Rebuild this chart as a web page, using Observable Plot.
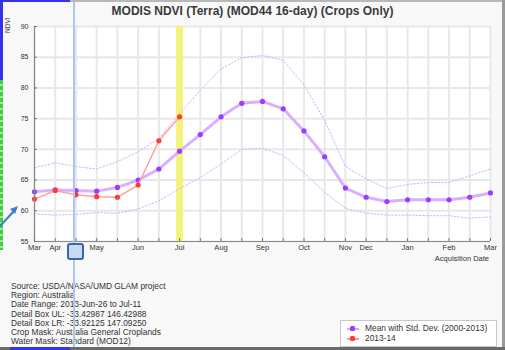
<!DOCTYPE html>
<html><head><meta charset="utf-8">
<script src="https://cdn.jsdelivr.net/npm/d3@7"></script>
<script src="https://cdn.jsdelivr.net/npm/@observablehq/plot@0.6"></script>
<style>
html,body{margin:0;padding:0;background:#fff;}
#wrap{position:relative;width:505px;height:350px;overflow:hidden;background:#f8f8f8;font-family:"Liberation Sans",Arial,sans-serif;color:#333;}
#chart{position:absolute;left:0;top:0;}
#title{position:absolute;top:4px;left:0;width:505px;text-align:center;font-weight:bold;font-size:12px;color:#3a3a3a;}
#ylab{position:absolute;left:4px;top:33px;font-size:6.5px;transform:rotate(-90deg);transform-origin:left top;color:#444;}
#xlab{position:absolute;right:16px;top:254px;font-size:7.5px;color:#333;}
#info{position:absolute;left:11px;top:282px;font-size:8.4px;line-height:9.2px;color:#333;white-space:nowrap;}
#legend{position:absolute;left:340px;top:320px;width:155px;height:25px;background:#fff;border:1px solid #c8c8c8;font-size:8.4px;color:#333;}
.lrow{position:absolute;left:6px;height:9px;line-height:9px;white-space:nowrap;}
.lrow span.sw{position:absolute;left:0;top:4px;width:12px;height:2px;}
.lrow span.mk{position:absolute;left:3px;top:2px;width:5px;height:5px;border-radius:1.5px;}
.lrow span.tx{position:absolute;left:18px;top:0;}
.ov{position:absolute;}
</style></head>
<body><div id="wrap">
<div id="chart"></div>
<div id="title"></div>
<div id="ylab"></div>
<div id="xlab"></div>
<div id="info"></div>
<div id="legend"></div>
<!-- screen overlays seen in the screenshot -->
<div class="ov" style="left:73px;top:0;width:2px;height:350px;background:#a9c8f0;"></div>
<div class="ov" style="left:67px;top:243px;width:13px;height:13px;background:#c9dbf2;border:2px solid #3a66ad;border-radius:3px;"></div>
<div class="ov" style="left:0;top:0;width:70px;height:2px;background:#3434e6;"></div>
<div class="ov" style="left:70px;top:0;width:435px;height:2px;background:#b8b8b8;"></div>
<div class="ov" style="left:502px;top:0;width:3px;height:350px;background:#9a9a9a;"></div>
<div class="ov" style="left:0;top:347px;width:505px;height:3px;background:#6a6a6a;"></div>
<div class="ov" style="left:10px;top:347px;width:60px;height:3px;background:#3434e6;"></div>
<div class="ov" style="left:0;top:0;width:3px;height:80px;background:#3434e6;"></div>
<div class="ov" style="left:0;top:80px;width:3px;height:170px;background:repeating-linear-gradient(#3fcf3f 0 4px,#9be89b 4px 6px);"></div>
<svg class="ov" style="left:0;top:0;" width="30" height="240">
  <line x1="0" y1="226" x2="15" y2="210" stroke="#3d7fc6" stroke-width="2.2"/>
  <path d="M18,206 L10,209 L15,214 Z" fill="#3d7fc6"/>
</svg>
</div>
<script>
// 16-day acquisition periods (index 0..22), Mar to Mar
const tickLabels = ["Mar","Apr","","May","","Jun","","Jul","","Aug","","Sep","","Oct","","Nov","Dec","","Jan","","Feb","","Mar"];
const meanNDVI  = [63.1,63.4,63.3,63.2,63.8,65.0,66.8,69.7,72.4,75.3,77.5,77.8,76.6,73.0,68.8,63.7,62.2,61.5,61.8,61.8,61.8,62.2,62.9];
const upperNDVI = [67.0,67.8,67.2,66.8,68.0,69.6,71.8,75.8,79.6,83.1,84.9,85.3,84.5,80.5,74.7,67.2,65.2,63.6,64.3,64.6,64.6,65.7,66.8];
const lowerNDVI = [59.5,59.3,59.4,59.7,59.6,60.3,61.6,63.6,65.4,67.6,70.0,70.2,69.0,66.2,63.0,60.4,59.6,59.3,59.3,59.2,59.2,58.8,59.0];
const ndvi2013  = [61.9,63.3,62.6,62.3,62.2,64.2,71.4,75.3];
const yTicks = [55,60,65,70,75,80,85,90];
const highlightPeriod = 7;

const titleText = "MODIS NDVI (Terra) (MOD44 16-day) (Crops Only)";
const yLabel = "NDVI";
const xLabel = "Acquisition Date";
const infoLines = [
  "Source: USDA/NASA/UMD GLAM project",
  "Region: Australia",
  "Date Range: 2013-Jun-26 to Jul-11",
  "Detail Box UL: -33.42987 146.42988",
  "Detail Box LR: -33.92125 147.09250",
  "Crop Mask: Australia General Croplands",
  "Water Mask: Standard (MOD12)"
];
const legendItems = [
  {label: "Mean with Std. Dev. (2000-2013)", line: "#d6a8ff", dot: "#9d3cff"},
  {label: "2013-14", line: "#ff9a9a", dot: "#ff3a3a"}
];

const idx = tickLabels.map((_, i) => i);
const rows = arr => arr.map((v, i) => ({i, v}));

const chart = Plot.plot({
  width: 505, height: 262,
  marginLeft: 34, marginRight: 15, marginTop: 26, marginBottom: 21,
  style: {background: "transparent", fontFamily: "Liberation Sans, Arial, sans-serif", color: "#333"},
  x: {domain: [0, 22]},
  y: {domain: [55, 90]},
  marks: [
    Plot.frame({fill: "white", stroke: null}),
    Plot.gridX(idx, {stroke: "#e8e8e8", strokeOpacity: 1, strokeWidth: 2}),
    Plot.gridY(yTicks, {stroke: "#e8e8e8", strokeOpacity: 1, strokeWidth: 2}),
    Plot.ruleX([highlightPeriod], {stroke: "#f3f37c", strokeWidth: 7}),
    Plot.line(rows(upperNDVI), {x: "i", y: "v", stroke: "#d6aeff", strokeWidth: 1, strokeDasharray: "1.5,2"}),
    Plot.line(rows(lowerNDVI), {x: "i", y: "v", stroke: "#d6aeff", strokeWidth: 1, strokeDasharray: "1.5,2"}),
    Plot.line(rows(meanNDVI), {x: "i", y: "v", stroke: "#d9b0ff", strokeWidth: 3}),
    Plot.dot(rows(meanNDVI), {x: "i", y: "v", fill: "#9d3cff", r: 2.6}),
    Plot.line(rows(ndvi2013), {x: "i", y: "v", stroke: "#ffa0a0", strokeWidth: 1.5}),
    Plot.dot(rows(ndvi2013), {x: "i", y: "v", fill: "#ff3a3a", r: 2.6}),
    Plot.ruleX([0], {stroke: "#8a8a8a", strokeWidth: 1.2}),
    Plot.ruleY([55], {stroke: "#8a8a8a", strokeWidth: 1.2}),
    Plot.axisY(yTicks, {tickSize: -3, tickPadding: 9, fontSize: 7, stroke: "#777", fill: "#333", label: null}),
    Plot.axisX(idx, {tickSize: -3, tickPadding: 6, fontSize: 7.5, stroke: "#777", fill: "#333", tickFormat: i => tickLabels[i], label: null})
  ]
});
document.getElementById("chart").appendChild(chart);
document.getElementById("title").textContent = titleText;
document.getElementById("ylab").textContent = yLabel;
document.getElementById("xlab").textContent = xLabel;
document.getElementById("info").innerHTML = infoLines.map(s => `<div>${s}</div>`).join("");
const leg = document.getElementById("legend");
legendItems.forEach((d, k) => {
  const r = document.createElement("div");
  r.className = "lrow";
  r.style.top = (3 + k * 9.5) + "px";
  r.innerHTML = `<span class="sw" style="background:${d.line}"></span><span class="mk" style="background:${d.dot}"></span><span class="tx">${d.label}</span>`;
  leg.appendChild(r);
});
</script>
</body></html>
